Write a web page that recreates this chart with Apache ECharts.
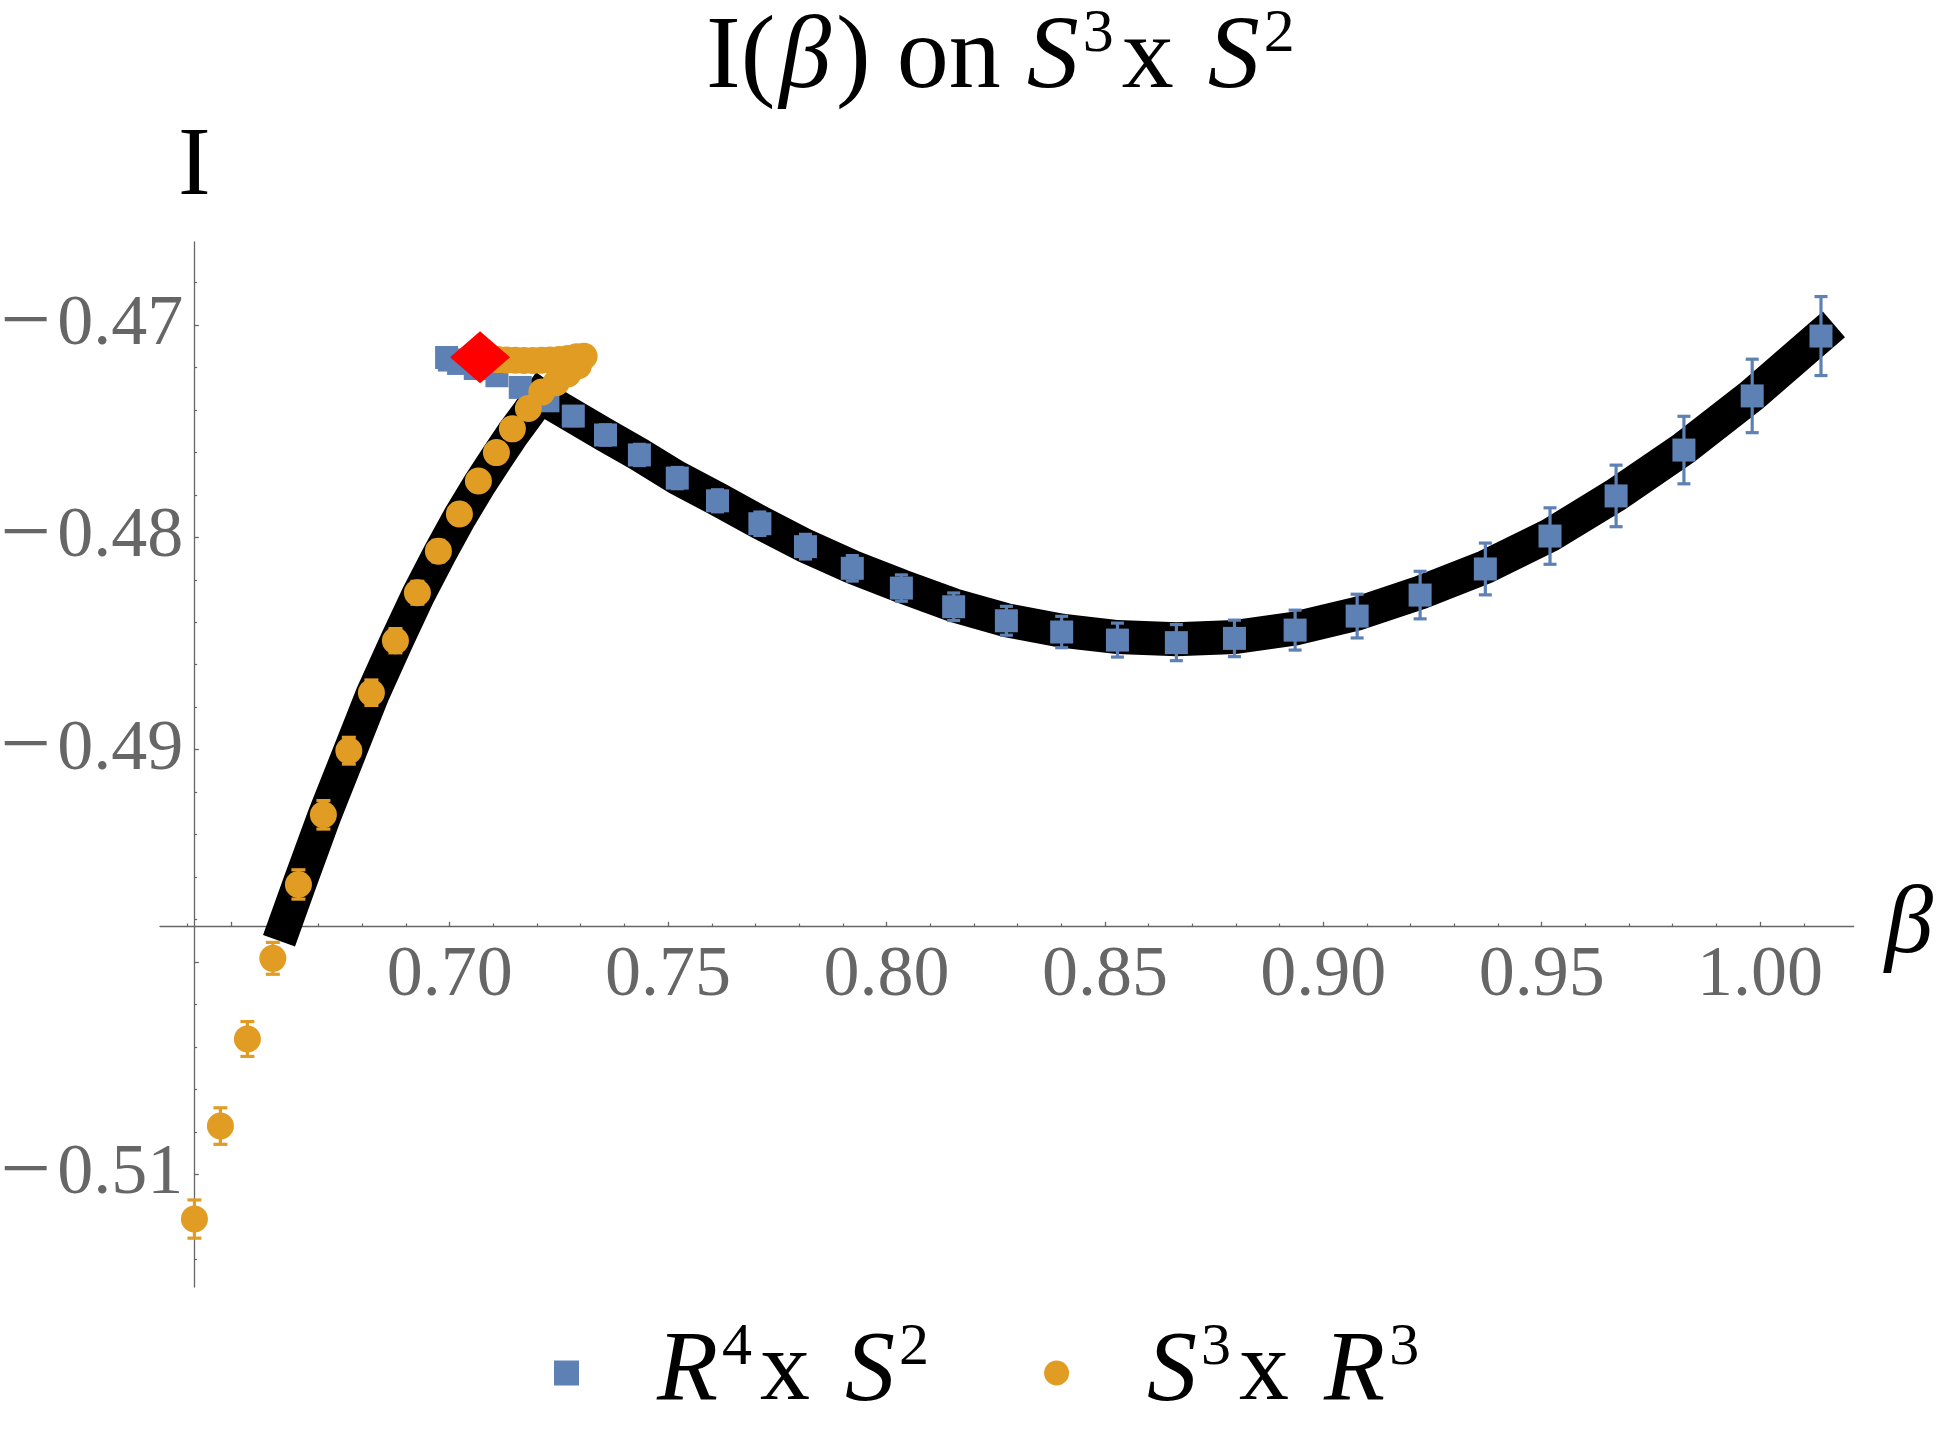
<!DOCTYPE html>
<html>
<head>
<meta charset="utf-8">
<script src="https://cdn.jsdelivr.net/npm/echarts@6/dist/echarts.min.js"></script>
<style>
html, body { margin: 0; padding: 0; background: #fff; }
#chart { width: 1944px; height: 1451px; }
</style>
</head>
<body>
<div id="chart"></div>
<script>
// R^4 x S^2 branch (blue squares)
var blueBeta = [0.69926, 0.69990, 0.70201, 0.70583, 0.71079, 0.71613, 0.72246, 0.72827, 0.73565, 0.74341,
  0.75208, 0.76129, 0.77099, 0.78143, 0.79215, 0.80339, 0.81536, 0.82743, 0.84009, 0.85286,
  0.86635, 0.87965, 0.89354, 0.90774, 0.92216, 0.93709, 0.95190, 0.96703, 0.98256, 0.99819, 1.01394];
var blueI = [-0.47153, -0.47165, -0.47181, -0.47205, -0.47239, -0.47294, -0.47357, -0.47429, -0.47518, -0.47612,
  -0.47721, -0.47828, -0.47936, -0.48044, -0.48146, -0.48239, -0.48327, -0.48393, -0.48446, -0.48484,
  -0.48496, -0.48476, -0.48437, -0.48371, -0.48272, -0.48149, -0.47994, -0.47805, -0.47589, -0.47334, -0.47052];
var blueErr = [0.0004, 0.0004, 0.0004, 0.0004, 0.0004, 0.0004, 0.00045, 0.00045, 0.00048, 0.0005,
  0.0005, 0.00052, 0.00055, 0.00058, 0.0006, 0.00062, 0.00065, 0.00068, 0.00074, 0.0008,
  0.00085, 0.00086, 0.00094, 0.00103, 0.00112, 0.00122, 0.00133, 0.00145, 0.00159, 0.00173, 0.00186];

// S^3 x R^3 branch (orange circles), in order along the branch
var orangeBeta = [0.64153, 0.64748, 0.65366, 0.65948, 0.66534, 0.67106, 0.67688, 0.68205, 0.68755, 0.69258,
  0.69739, 0.70220, 0.70655, 0.71067, 0.71433, 0.71799, 0.72106, 0.72434, 0.72701, 0.72944,
  0.73075, 0.72900, 0.72700, 0.72500, 0.72300, 0.72100, 0.71900, 0.71700, 0.71500, 0.71300,
  0.71100, 0.70900];
var orangeI = [-0.51211, -0.50773, -0.50363, -0.49983, -0.49635, -0.49307, -0.49005, -0.48732, -0.48487, -0.48261,
  -0.48065, -0.47890, -0.47735, -0.47601, -0.47489, -0.47393, -0.47316, -0.47272, -0.47231, -0.47192,
  -0.47147, -0.47150, -0.47158, -0.47162, -0.47165, -0.47166, -0.47167, -0.47167, -0.47166, -0.47165,
  -0.47163, -0.47160];
var orangeErr = [0.0009, 0.00086, 0.00082, 0.00075, 0.00069, 0.00067, 0.00063, 0.0006, 0.00057, 0.00054,
  0.00051, 0.00048, 0.00046, 0.00044, 0.00042, 0.0004, 0.0004, 0.0004, 0.0004, 0.0004,
  0.0004, 0.0004, 0.0004, 0.0004, 0.0004, 0.0004, 0.0004, 0.0004, 0.0004, 0.0004,
  0.0004, 0.0004];

// dominant phase (thick black curve)
var curveBeta = [0.6609, 0.6656, 0.6713, 0.6771, 0.6823, 0.6878, 0.6928, 0.6976, 0.7024, 0.7068,
  0.7109, 0.7145, 0.7181, 0.7207, 0.7225, 0.7283, 0.7357, 0.7434, 0.7521, 0.7613,
  0.7710, 0.7814, 0.7922, 0.8034, 0.8154, 0.8274, 0.8401, 0.8529, 0.8664, 0.8797,
  0.8935, 0.9077, 0.9222, 0.9371, 0.9519, 0.9670, 0.9826, 0.9982, 1.0139, 1.0169];
var curveI = [-0.4990, -0.4963, -0.4931, -0.4901, -0.4874, -0.4849, -0.4827, -0.4808, -0.4790, -0.4775,
  -0.4762, -0.4751, -0.4741, -0.47334, -0.4736, -0.4743, -0.4752, -0.4761, -0.4772, -0.4782,
  -0.4793, -0.4804, -0.4814, -0.4823, -0.4832, -0.4839, -0.4844, -0.4847, -0.4848, -0.4847,
  -0.4843, -0.4836, -0.4826, -0.4814, -0.4799, -0.4780, -0.4758, -0.4733, -0.4705, -0.46997];

// transition point (red diamond)
var markBeta = [0.70693];
var markI = [-0.47152];

// ticks
var xMajorTicks = [0.65, 0.70, 0.75, 0.80, 0.85, 0.90, 0.95, 1.00];
var xLabels = [0.70, 0.75, 0.80, 0.85, 0.90, 0.95, 1.00];
var xMinorTicks = [0.64, 0.66, 0.67, 0.68, 0.69, 0.71, 0.72, 0.73, 0.74, 0.76, 0.77, 0.78, 0.79,
  0.81, 0.82, 0.83, 0.84, 0.86, 0.87, 0.88, 0.89, 0.91, 0.92, 0.93, 0.94, 0.96, 0.97, 0.98, 0.99, 1.01];
var yMajorTicks = [-0.51, -0.50, -0.49, -0.48, -0.47];
var yLabels = [-0.51, -0.49, -0.48, -0.47];
var yMinorTicks = [-0.514, -0.512, -0.508, -0.506, -0.504, -0.502, -0.498, -0.496, -0.494, -0.492,
  -0.488, -0.486, -0.484, -0.482, -0.478, -0.476, -0.474, -0.472, -0.468];

var FONT = '"Liberation Serif", "Times New Roman", serif';
var GRAY = '#666666';
var BLUE = '#5E81B5';
var ORANGE = '#E19C24';

function pairs(xs, ys) {
  return xs.map(function (x, i) { return [x, ys[i]]; });
}
function bars(xs, ys, es) {
  return xs.map(function (x, i) { return [x, ys[i] - es[i], ys[i] + es[i]]; });
}
function errorBars(color, capHalf) {
  return function (params, api) {
    var x = api.value(0);
    var top = api.coord([x, api.value(2)]);
    var bot = api.coord([x, api.value(1)]);
    var st = { stroke: color, lineWidth: 3.2 };
    return {
      type: 'group',
      children: [
        { type: 'line', shape: { x1: top[0], y1: top[1], x2: bot[0], y2: bot[1] }, style: st },
        { type: 'line', shape: { x1: top[0] - capHalf, y1: top[1], x2: top[0] + capHalf, y2: top[1] }, style: st },
        { type: 'line', shape: { x1: bot[0] - capHalf, y1: bot[1], x2: bot[0] + capHalf, y2: bot[1] }, style: st }
      ]
    };
  };
}
function minusLabel(v) {
  return (v < 0 ? '{m|\u2212}' : '') + '{d|' + Math.abs(v).toFixed(2) + '}';
}

var X_MIN_DATA = 0.6415, X_MIN_AXIS = 0.63368, X_MAX = 1.02143;
var Y_MIN = -0.51531, Y_MAX = -0.46609;

var chart = echarts.init(document.getElementById('chart'), null, { renderer: 'canvas' });
var option = {
  animation: false,
  backgroundColor: '#ffffff',
  title: {
    text: '{n|I(}{b|β}{n|) on }{i|S}{s|3}{x|x }{i|S}{s|2}',
    left: 706,
    top: 4,
    padding: 0,
    textStyle: {
      fontWeight: 'normal',
      rich: {
        n: { fontFamily: FONT, fontWeight: 'normal', fontSize: 104, lineHeight: 112, color: '#000' },
        b: { fontFamily: FONT, fontWeight: 'normal', fontStyle: 'italic', fontSize: 104, lineHeight: 112, color: '#000', padding: [0, 5, 0, 4] },
        i: { fontFamily: FONT, fontWeight: 'normal', fontStyle: 'italic', fontSize: 104, lineHeight: 112, color: '#000' },
        x: { fontFamily: FONT, fontWeight: 'normal', fontSize: 104, lineHeight: 112, color: '#000', padding: [0, 8, 0, 0] },
        s: { fontFamily: FONT, fontWeight: 'normal', fontSize: 62, lineHeight: 62, verticalAlign: 'top', color: '#000', padding: [0, 8, 0, 4] }
      }
    }
  },
  legend: {
    left: 554,
    top: 1318,
    padding: 0,
    itemGap: 107,
    itemWidth: 25,
    itemHeight: 25,
    selectedMode: false,
    data: [
      { name: 'R4xS2', icon: 'rect' },
      { name: 'S3xR3', icon: 'circle' }
    ],
    formatter: function (name) {
      if (name === 'R4xS2') return '{p|}{i|R}{s|4}{x|x }{i|S}{s|2}';
      return '{p|}{i|S}{s|3}{x|x }{i|R}{s|3}';
    },
    textStyle: {
      rich: {
        p: { width: 73 },
        x: { fontFamily: FONT, fontSize: 100, lineHeight: 110, color: '#000', padding: [0, 10, 0, 0] },
        i: { fontFamily: FONT, fontStyle: 'italic', fontSize: 100, lineHeight: 110, color: '#000' },
        s: { fontFamily: FONT, fontSize: 60, lineHeight: 60, verticalAlign: 'top', color: '#000', padding: [0, 8, 0, 4] }
      }
    }
  },
  grid: [
    { left: 194.3, top: 242, width: 1659.4, height: 1045, outerBoundsMode: 'none', containLabel: false },
    { left: 160, top: 242, width: 1693.7, height: 684.3, outerBoundsMode: 'none', containLabel: false }
  ],
  xAxis: [
    { gridIndex: 0, type: 'value', min: X_MIN_DATA, max: X_MAX, show: false },
    {
      gridIndex: 1, type: 'value', min: X_MIN_AXIS, max: X_MAX, position: 'bottom',
      name: 'β', nameLocation: 'end', nameGap: 31,
      nameTextStyle: { fontFamily: FONT, fontStyle: 'italic', fontSize: 97, color: '#000', padding: [12, 0, 0, 0] },
      axisLine: { show: true, onZero: false, lineStyle: { color: GRAY, width: 1.3 } },
      axisTick: { show: true, inside: true, length: 4.5, customValues: xMajorTicks, lineStyle: { color: GRAY, width: 1.3 } },
      axisLabel: { show: true, customValues: xLabels, margin: 14, fontFamily: FONT, fontSize: 72, color: GRAY,
        formatter: function (v) { return v.toFixed(2); } },
      splitLine: { show: false }
    },
    {
      gridIndex: 1, type: 'value', min: X_MIN_AXIS, max: X_MAX, position: 'bottom',
      axisLine: { show: false, onZero: false },
      axisTick: { show: true, inside: true, length: 2.8, customValues: xMinorTicks, lineStyle: { color: GRAY, width: 1.2 } },
      axisLabel: { show: false },
      splitLine: { show: false }
    }
  ],
  yAxis: [
    {
      gridIndex: 0, type: 'value', min: Y_MIN, max: Y_MAX, position: 'left',
      name: 'I', nameLocation: 'end', nameGap: 25,
      nameTextStyle: { fontFamily: FONT, fontSize: 98, color: '#000' },
      axisLine: { show: true, onZero: false, lineStyle: { color: GRAY, width: 1.3 } },
      axisTick: { show: true, inside: true, length: 4.5, customValues: yMajorTicks, lineStyle: { color: GRAY, width: 1.3 } },
      axisLabel: { show: true, customValues: yLabels, margin: 11, formatter: minusLabel,
        rich: {
          m: { fontFamily: FONT, fontSize: 90, color: GRAY, padding: [0, 6, 0, 0] },
          d: { fontFamily: FONT, fontSize: 72, color: GRAY }
        } },
      splitLine: { show: false }
    },
    {
      gridIndex: 0, type: 'value', min: Y_MIN, max: Y_MAX, position: 'left',
      axisLine: { show: false, onZero: false },
      axisTick: { show: true, inside: true, length: 2.8, customValues: yMinorTicks, lineStyle: { color: GRAY, width: 1.2 } },
      axisLabel: { show: false },
      splitLine: { show: false }
    },
    { gridIndex: 1, type: 'value', min: 0, max: 1, show: false }
  ],
  series: [
    {
      type: 'line', name: 'curve', xAxisIndex: 0, yAxisIndex: 0, z: 2,
      data: pairs(curveBeta, curveI), showSymbol: false, clip: false, silent: true,
      lineStyle: { color: '#000', width: 34, cap: 'butt', join: 'miter', miterLimit: 20 }
    },
    {
      type: 'custom', name: 'blueErr', xAxisIndex: 0, yAxisIndex: 0, z: 3,
      data: bars(blueBeta, blueI, blueErr), renderItem: errorBars(BLUE, 6.5), clip: false, silent: true
    },
    {
      type: 'scatter', name: 'R4xS2', xAxisIndex: 0, yAxisIndex: 0, z: 4,
      data: pairs(blueBeta, blueI), symbol: 'rect', symbolSize: 23, clip: false, silent: true,
      itemStyle: { color: BLUE, opacity: 1 }
    },
    {
      type: 'custom', name: 'orangeErr', xAxisIndex: 0, yAxisIndex: 0, z: 5,
      data: bars(orangeBeta, orangeI, orangeErr), renderItem: errorBars(ORANGE, 7), clip: false, silent: true
    },
    {
      type: 'scatter', name: 'S3xR3', xAxisIndex: 0, yAxisIndex: 0, z: 6,
      data: pairs(orangeBeta, orangeI), symbol: 'circle', symbolSize: 27, clip: false, silent: true,
      itemStyle: { color: ORANGE, opacity: 1 }
    },
    {
      type: 'scatter', name: 'mark', xAxisIndex: 0, yAxisIndex: 0, z: 7,
      data: pairs(markBeta, markI), symbol: 'diamond', symbolSize: [60, 52], clip: false, silent: true,
      itemStyle: { color: '#FF0000', opacity: 1 }
    }
  ]
};
chart.setOption(option);
</script>
</body>
</html>
